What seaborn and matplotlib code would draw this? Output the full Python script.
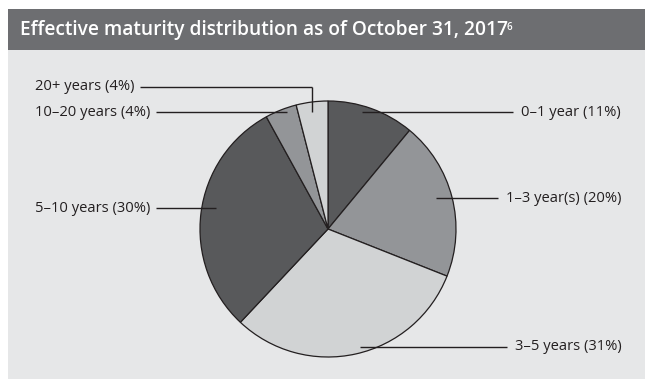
import matplotlib
matplotlib.use("Agg")
import matplotlib.pyplot as plt
import seaborn as sns
from matplotlib.patches import Rectangle

# ---- data ----
categories = ["0–1 year", "1–3 year(s)", "3–5 years", "5–10 years", "10–20 years", "20+ years"]
values = [11, 20, 31, 30, 4, 4]
title = "Effective maturity distribution as of October 31, 2017"
title_note = "6"

# ---- style ----
sns.set_theme(style="white")
plt.rcParams["font.family"] = ["Open Sans", "DejaVu Sans"]

dark, mid, light = "#58595b", "#939598", "#d1d3d4"
colors = [dark, mid, light, dark, mid, light]
edge = "#231f20"
text_col = "#231f20"

W, H = 645, 379
fig = plt.figure(figsize=(W / 100, H / 100), dpi=100)
fig.patch.set_facecolor("white")

def fx(px):
    return px / W

def fy(py):
    return 1 - py / H

# panel + title bar
fig.patches.append(Rectangle((fx(8), 0), 1 - fx(8), fy(50), transform=fig.transFigure,
                             facecolor="#e6e7e8", edgecolor="none", zorder=-5))
fig.patches.append(Rectangle((fx(8), fy(50)), 1 - fx(8), fy(9) - fy(50), transform=fig.transFigure,
                             facecolor="#6d6e71", edgecolor="none", zorder=-5))
t = fig.text(fx(20), fy(30), title, color="white", fontsize=13.8,
             fontweight="semibold", va="center", ha="left", zorder=5)
renderer = fig.canvas.get_renderer()
bb = t.get_window_extent(renderer=renderer)
fig.text((bb.x1 - 1.5) / W, fy(21.5), title_note, color="white", fontsize=7,
         fontweight="semibold", va="top", ha="left", zorder=5)

# pie axes: center (328,229) px, radius 128 px
cx, cy, r = 328, 229, 128
ax = fig.add_axes([fx(cx - r), fy(cy + r), (2 * r) / W, (2 * r) / H])
ax.set_zorder(2)
ax.set_facecolor("none")
ax.pie(values, colors=colors, startangle=90, counterclock=False, radius=1,
       wedgeprops=dict(edgecolor=edge, linewidth=0.9))
ax.set_xlim(-1, 1)
ax.set_ylim(-1, 1)
ax.set_aspect("equal")
ax.axis("off")

def dx(px):
    return (px - cx) / r

def dy(py):
    return (cy - py) / r

# leader layout in pixels: (label y, line start x, line end x, text x, ha)
layout = {
    "0–1 year": (112, 362, 513, 521, "left"),
    "1–3 year(s)": (198, 436, 498, 506, "left"),
    "3–5 years": (347, 360, 507, 515, "left"),
    "5–10 years": (208, 216, 156, 35, "left"),
    "10–20 years": (112, 287, 156, 35, "left"),
    "20+ years": (87, 312, 140, 35, "left"),
}
lkw = dict(color=edge, linewidth=1.0, clip_on=False, solid_capstyle="butt")
for cat, val in zip(categories, values):
    y, xs, xe, xt, ha = layout[cat]
    ax.plot([dx(xs), dx(xe)], [dy(y), dy(y)], **lkw)
    if cat == "20+ years":
        ax.plot([dx(xs), dx(xs)], [dy(y), dy(112)], **lkw)
    ax.text(dx(xt), dy(y), f"{cat} ({val}%)", ha=ha, va="center", fontsize=10.6,
            color=text_col, clip_on=False)

fig.savefig("out.png", dpi=100, facecolor=fig.get_facecolor())
